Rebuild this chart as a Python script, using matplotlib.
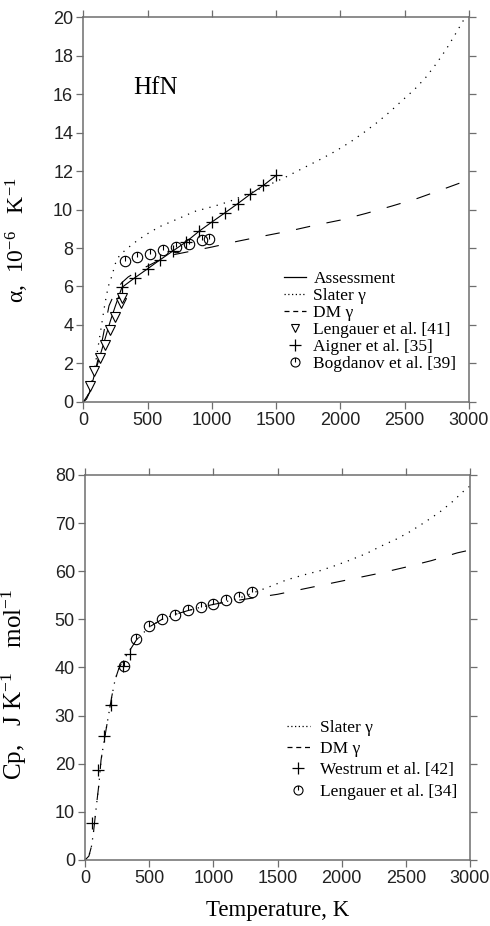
import numpy as np
import matplotlib
matplotlib.use("Agg")
import matplotlib.pyplot as plt
from matplotlib.path import Path
from matplotlib.lines import Line2D

# ---- thermal expansion (top) ----
alpha_assess_T = [0, 25, 52, 90, 130, 170, 210, 250, 300, 400, 500, 600, 700, 800, 900,
                  1000, 1100, 1200, 1300, 1400, 1500]
alpha_assess = [0, 0.15, 0.55, 1.5, 2.4, 3.3, 4.2, 5.0, 5.95, 6.45, 6.92, 7.4, 7.86, 8.32,
                8.87, 9.35, 9.82, 10.3, 10.8, 11.25, 11.77]

alpha_slater_T = [0, 40, 65, 90, 116, 142, 168, 194, 220, 250, 280, 336, 426, 504, 594, 685,
                  775, 866, 956, 1047, 1137, 1240, 1400, 1564, 1680, 1848, 1964, 2080, 2184,
                  2287, 2385, 2481, 2579, 2662, 2747, 2822, 2889, 2953, 3000]
alpha_slater = [0, 0.4, 1.0, 1.8, 2.9, 4.0, 5.1, 6.0, 6.5, 7.2, 7.6, 7.95, 8.42, 8.76, 9.11,
                9.37, 9.63, 9.9, 10.06, 10.23, 10.42, 10.7, 11.15, 11.65, 12.05, 12.62, 13.04,
                13.52, 14.01, 14.53, 15.08, 15.67, 16.26, 16.85, 17.59, 18.32, 19.06, 19.79, 20.2]

alpha_dm_T = [0, 50, 100, 150, 200, 230, 260, 300, 350, 440, 600, 700, 850, 1000, 1200, 1400,
              1600, 1800, 2000, 2200, 2400, 2600, 2800, 3000]
alpha_dm = [0, 0.5, 1.8, 3.3, 5.0, 5.45, 5.85, 6.2, 6.5, 6.86, 7.4, 7.65, 7.85, 8.05, 8.35,
            8.62, 8.88, 9.18, 9.45, 9.8, 10.18, 10.58, 11.06, 11.55]

lengauer41_T = [50, 85, 127, 168, 210, 250, 292, 303]
lengauer41 = [0.85, 1.62, 2.27, 2.97, 3.74, 4.4, 5.16, 5.38]

aigner35_T = [300, 400, 500, 600, 700, 800, 900, 1000, 1100, 1200, 1300, 1400, 1500]
aigner35 = [5.95, 6.45, 6.92, 7.4, 7.86, 8.32, 8.87, 9.35, 9.82, 10.3, 10.8, 11.25, 11.77]

bogdanov39_T = [323, 421, 522, 620, 722, 822, 920, 977]
bogdanov39 = [7.32, 7.54, 7.71, 7.88, 8.05, 8.2, 8.42, 8.49]

# ---- heat capacity (bottom) ----
cp_slater_T = [0, 30, 50, 65, 91, 109, 125, 150, 177, 208, 234, 260, 290, 350, 400, 500, 600,
               700, 800, 900, 1000, 1100, 1200, 1300, 1450, 1571, 1701, 1831, 1948, 2065,
               2195, 2306, 2429, 2538, 2649, 2760, 2857, 2953, 3000]
cp_slater = [0, 0.8, 2.8, 5.5, 11.8, 15.9, 20.8, 24.9, 29.1, 33.9, 37.4, 39.5, 41.2, 43.6,
             45.7, 48.4, 50.0, 51.0, 51.8, 52.5, 53.1, 53.7, 54.4, 55.4, 56.9, 58.2, 59.2,
             60.1, 61.15, 62.3, 63.7, 65.2, 66.7, 68.3, 70.2, 72.2, 74.3, 76.7, 77.7]

cp_dm_T = [0, 30, 50, 65, 91, 109, 125, 150, 177, 208, 234, 260, 290, 350, 400, 500, 600, 700,
           800, 900, 1000, 1100, 1200, 1300, 1400, 1500, 1700, 1900, 2100, 2300, 2500, 2700,
           2900, 3000]
cp_dm = [0, 0.8, 2.8, 5.5, 11.8, 15.9, 20.8, 24.9, 29.1, 33.9, 37.4, 39.5, 41.2, 43.6, 45.7,
         48.4, 50.0, 51.0, 51.8, 52.5, 53.1, 53.6, 54.0, 54.4, 54.8, 55.2, 56.3, 57.4, 58.5,
         59.6, 60.85, 62.2, 63.8, 64.4]

westrum42_T = [52, 99, 150, 203, 299, 351]
westrum42 = [7.6, 18.7, 25.8, 32.2, 40.4, 42.8]

lengauer34_T = [300, 400, 500, 600, 700, 800, 900, 1000, 1100, 1200, 1300]
lengauer34 = [40.4, 46.0, 48.6, 50.1, 51.0, 51.9, 52.6, 53.2, 54.0, 54.7, 55.6]

plt.rcParams["font.family"] = ["Liberation Serif", "DejaVu Serif"]
plt.rcParams["mathtext.fontset"] = "custom"
plt.rcParams["mathtext.rm"] = "Liberation Serif"
plt.rcParams["mathtext.it"] = "Liberation Serif:italic"

# circle with a short stroke from the top to the centre
circ = Path.unit_circle()
stroke = Path([[0, 0], [0, 1]], [Path.MOVETO, Path.LINETO])
circ_marker = Path.make_compound_path(circ, stroke)

DOT = (0, (1, 5))
DASH = (0, (13, 15))
SPINE = "#6e6e6e"

fig = plt.figure(figsize=(4.9, 9.26), dpi=100)
ax1 = fig.add_axes([0.1700, 0.5659, 0.7872, 0.4157])
ax2 = fig.add_axes([0.1735, 0.0713, 0.7857, 0.4158])


def style_axes(ax):
    for s in ax.spines.values():
        s.set_color(SPINE)
        s.set_linewidth(1.1)
    ax.tick_params(direction="out", length=4.8, width=0.9, color=SPINE,
                   top=True, right=True, labelsize=13, pad=2.5, labelcolor="#222222")
    for lab in ax.get_xticklabels() + ax.get_yticklabels():
        lab.set_family("Liberation Sans")
    ax.set_xlim(0, 3000)
    ax.set_xticks(np.arange(0, 3001, 500))


ax1.plot(alpha_slater_T, alpha_slater, color="k", lw=0.9, ls=DOT)
ax1.plot(alpha_dm_T, alpha_dm, color="k", lw=0.8, ls=DASH)
ax1.plot(alpha_assess_T, alpha_assess, color="k", lw=0.8, ls="-")
ax1.plot(lengauer41_T, lengauer41, ls="none", marker="v", ms=7, mfc="white", mec="k", mew=0.8)
ax1.plot(aigner35_T, aigner35, ls="none", marker="+", ms=9, mec="k", mew=0.9)
ax1.plot(bogdanov39_T, bogdanov39, ls="none", marker=circ_marker, ms=7.5, mfc="none",
         mec="k", mew=0.8)
ax1.set_ylim(0, 20)
ax1.set_yticks(np.arange(0, 21, 2))
style_axes(ax1)
ax1.set_ylabel(r"α,  10$^{-6}$   K$^{-1}$", fontsize=17)
ax1.yaxis.set_label_coords(-0.135, 0.42)
ax1.text(385, 16.3, "HfN", fontsize=18, va="center", ha="left")

h1 = [Line2D([], [], color="k", lw=0.9, ls="-"),
      Line2D([], [], color="k", lw=0.9, ls=(0, (1, 2))),
      Line2D([], [], color="k", lw=0.9, ls=(0, (4, 3))),
      Line2D([], [], ls="none", marker="v", ms=6, mfc="white", mec="k", mew=0.8),
      Line2D([], [], ls="none", marker="+", ms=8, mec="k", mew=0.9),
      Line2D([], [], ls="none", marker=circ_marker, ms=6.5, mfc="none", mec="k", mew=0.8)]
l1 = ["Assessment", "Slater γ", "DM γ", "Lengauer et al. [41]", "Aigner et al. [35]",
      "Bogdanov et al. [39]"]
ax1.legend(h1, l1, loc="upper left", bbox_to_anchor=(0.52, 0.34), frameon=False,
           fontsize=12.5, handlelength=1.3, handletextpad=0.4, labelspacing=0.05,
           borderpad=0, borderaxespad=0)

ax2.plot(cp_slater_T, cp_slater, color="k", lw=0.9, ls=DOT)
ax2.plot(cp_dm_T, cp_dm, color="k", lw=0.8, ls=DASH)
ax2.plot(westrum42_T, westrum42, ls="none", marker="+", ms=9, mec="k", mew=0.9)
ax2.plot(lengauer34_T, lengauer34, ls="none", marker=circ_marker, ms=7.5, mfc="none",
         mec="k", mew=0.8)
ax2.set_ylim(0, 80)
ax2.set_yticks(np.arange(0, 81, 10))
style_axes(ax2)
ax2.set_ylabel(r"Cp,   J K$^{-1}$    mol$^{-1}$", fontsize=18)
ax2.yaxis.set_label_coords(-0.145, 0.455)
ax2.set_xlabel("Temperature, K", fontsize=16.5)
ax2.xaxis.set_label_coords(0.5, -0.105)

h2 = [Line2D([], [], color="k", lw=0.9, ls=(0, (1, 2))),
      Line2D([], [], color="k", lw=0.9, ls=(0, (4, 3))),
      Line2D([], [], ls="none", marker="+", ms=8, mec="k", mew=0.9),
      Line2D([], [], ls="none", marker=circ_marker, ms=6.5, mfc="none", mec="k", mew=0.8)]
l2 = ["Slater γ", "DM γ", "Westrum et al. [42]", "Lengauer et al. [34]"]
ax2.legend(h2, l2, loc="upper left", bbox_to_anchor=(0.525, 0.365), frameon=False,
           fontsize=12.5, handlelength=1.3, handletextpad=0.6, labelspacing=0.3,
           borderpad=0, borderaxespad=0)

fig.savefig("out.png", dpi=100)
